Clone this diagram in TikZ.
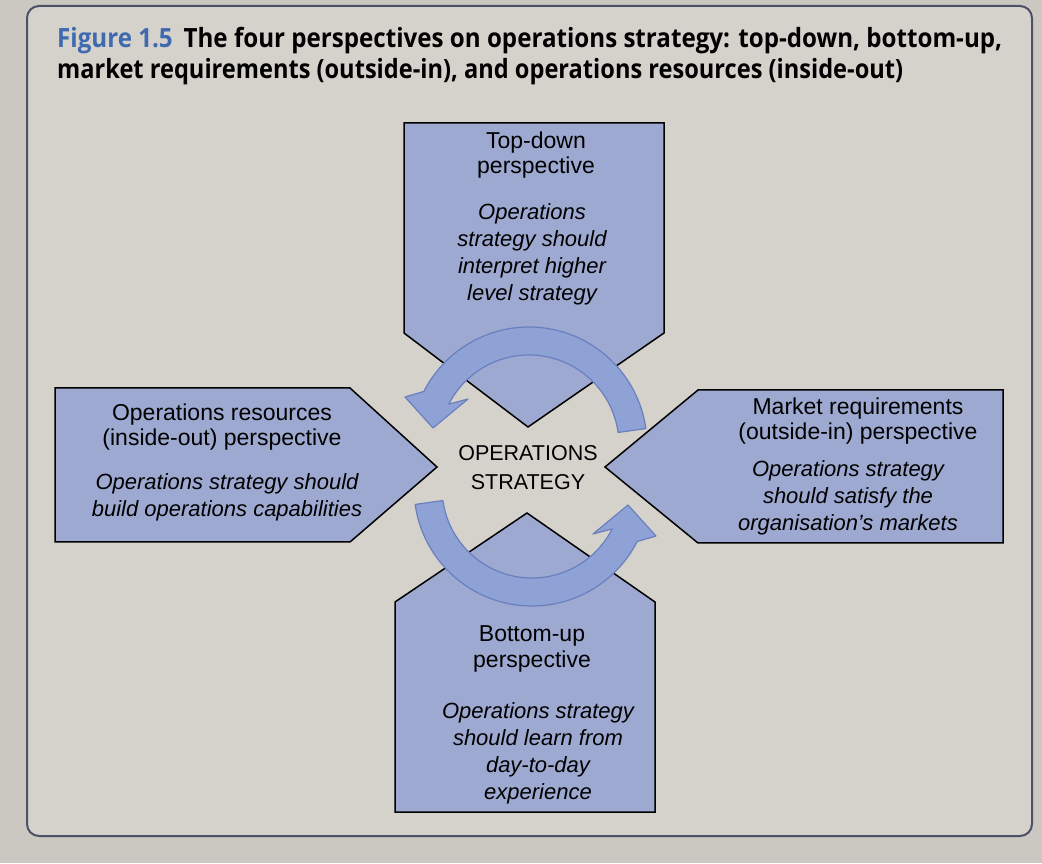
\documentclass[tikz,border=0pt]{standalone}
\usepackage{fontspec}
\setmainfont{Liberation Sans}
\newfontfamily\titlefont{Open Sans}
\usepackage{graphicx}
\definecolor{pagebg}{HTML}{D5D2CC}
\definecolor{outerbg}{HTML}{CBC8C2}
\definecolor{framecol}{HTML}{4C5068}
\definecolor{boxfill}{HTML}{9DA9D1}
\definecolor{arrowfill}{HTML}{8EA2D6}
\definecolor{arrowline}{HTML}{6A7FBE}
\definecolor{figblue}{HTML}{3F6AB0}
\begin{document}
\begin{tikzpicture}[x=1pt,y=1pt,
  persp/.style={fill=boxfill,draw=black,line width=1.5pt,line join=miter},
  curvearrow/.style={fill=arrowfill,draw=arrowline,line width=1.2pt,line join=round},
  head/.style={anchor=base,align=center,inner sep=0pt,font=\fontsize{23}{25}\selectfont},
  desc/.style={anchor=base,align=center,inner sep=0pt,font=\fontsize{22}{27}\selectfont\itshape},
  frame/.style={draw=framecol,line width=2pt,rounded corners=12pt,fill=pagebg}
]
\useasboundingbox (0,0) rectangle (1042,863);
\fill[outerbg] (0,0) rectangle (1042,863);
\path[frame] (27,27) rectangle (1032,857);

% title (base anchor = baseline of the last line)
\node[anchor=base west,align=left,inner sep=0pt,
      font=\titlefont\bfseries\fontsize{26.5}{31}\selectfont] (title) at (57,784)
  {\resizebox{945pt}{\height}{\textcolor{figblue}{Figure 1.5}\hspace{0.45em}The four perspectives on operations strategy: top-down, bottom-up,}\\
   \resizebox{846pt}{\height}{market requirements (outside-in), and operations resources (inside-out)}};

% perspective boxes
\path[persp] (404,740) -- (664,740) -- (664,530) -- (528,436) -- (404,530) -- cycle;
\path[persp] (395,51) -- (395,261) -- (527,350) -- (655,261) -- (655,51) -- cycle;
\path[persp] (55,475) -- (350,475) -- (437,396) -- (350,321) -- (55,321) -- cycle;
\path[persp] (605,396) -- (698,473) -- (1003,473) -- (1003,320) -- (698,320) -- cycle;

% texts (positions are the baselines of the last lines)
\node[head] (tdh) at (536,689) {Top-down\\perspective};
\node[desc] (tdd) at (532,562) {Operations\\strategy should\\interpret higher\\level strategy};
\node[head] (buh) at (532,196) {Bottom-up\\perspective};
\node[desc] (bud) at (538,64) {Operations strategy\\should learn from\\day-to-day\\experience};
\node[head] (orh) at (222,417) {Operations resources\\(inside-out) perspective};
\node[desc] (ord) at (227,346) {Operations strategy should\\build operations capabilities};
\node[head] (mrh) at (858,423) {Market requirements\\(outside-in) perspective};
\node[desc] (mrd) at (848,332) {Operations strategy\\should satisfy the\\organisation's markets};
\node[anchor=base,align=center,inner sep=0pt,font=\fontsize{21.5}{29}\selectfont] (core) at (528,373) {OPERATIONS\\STRATEGY};

% curved arrows
\begin{scope}[shift={(529,418)}]
\path[curvearrow] (8:118pt) arc[start angle=8,end angle=153,radius=118pt]
  -- (-124,48) -- (-96,17) -- (-61,46) -- (153:90pt)
  arc[start angle=153,end angle=8,radius=90pt] -- cycle;
\end{scope}
\begin{scope}[shift={(532,375)}]
\path[curvearrow] (188:118pt) arc[start angle=188,end angle=333,radius=118pt]
  -- (124,-48) -- (96,-17) -- (61,-46) -- (333:90pt)
  arc[start angle=333,end angle=188,radius=90pt] -- cycle;
\end{scope}
\end{tikzpicture}
\end{document}
